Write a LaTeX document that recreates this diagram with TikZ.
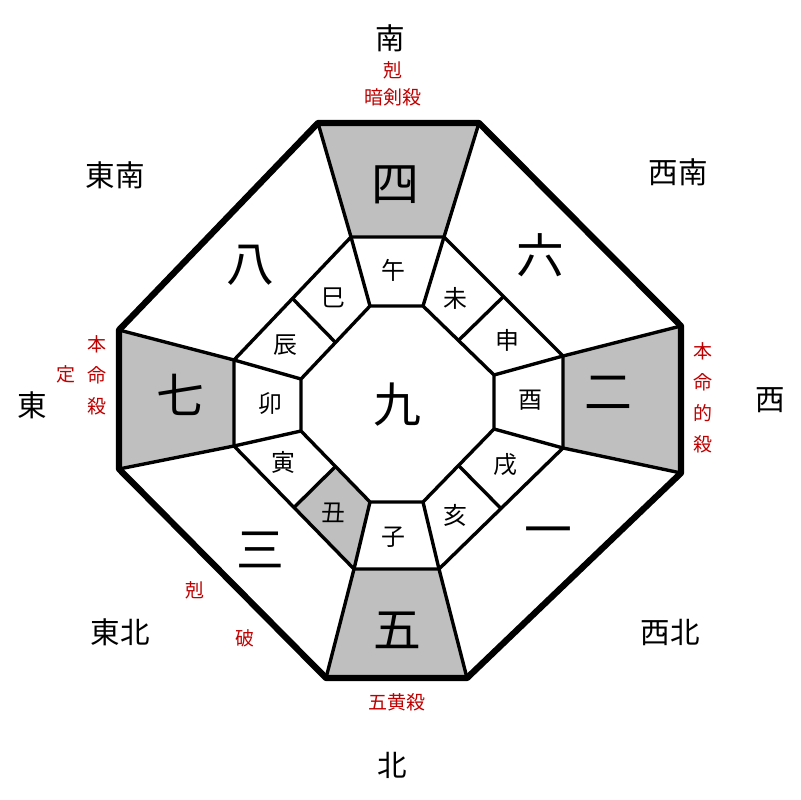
\documentclass[tikz,border=0pt]{standalone}
\usepackage{fontspec}
\usetikzlibrary{calc}
\newfontfamily\cjk{Noto Sans CJK JP}
\begin{document}
\begin{tikzpicture}[x={(0.025cm,0)}, y={(0,-0.025cm)},
    bigline/.style={line width=4.5pt, line join=round},
    thinline/.style={line width=2.4pt},
    shade/.style={fill=gray!50},
    star/.style={font=\cjk\fontsize{34}{34}\selectfont},
    branch/.style={font=\cjk\fontsize{17}{17}\selectfont},
    dir/.style={font=\cjk\fontsize{21}{21}\selectfont},
    note/.style={font=\cjk\fontsize{13.5}{22}\selectfont, text=red!75!black, align=center}]
    \useasboundingbox (0,0) rectangle (800,800);

    % Ecken der drei Achtecke
    \coordinate (o1) at (318,123); \coordinate (o2) at (479,123);
    \coordinate (o3) at (681,326); \coordinate (o4) at (681,473);
    \coordinate (o5) at (467,678); \coordinate (o6) at (326,678);
    \coordinate (o7) at (119,469); \coordinate (o8) at (119,330);
    \coordinate (m1) at (351,237); \coordinate (m2) at (444,237);
    \coordinate (m3) at (563,356); \coordinate (m4) at (563,448);
    \coordinate (m5) at (439,569); \coordinate (m6) at (354,569);
    \coordinate (m7) at (234,446); \coordinate (m8) at (234,360);
    \coordinate (i1) at (370,306); \coordinate (i2) at (423,306);
    \coordinate (i3) at (494,375); \coordinate (i4) at (494,429);
    \coordinate (i5) at (423,502); \coordinate (i6) at (370,502);
    \coordinate (i7) at (301,431); \coordinate (i8) at (301,379);

    % graue Felder
    \fill[shade] (o1) -- (o2) -- (m2) -- (m1) -- cycle;
    \fill[shade] (o3) -- (o4) -- (m4) -- (m3) -- cycle;
    \fill[shade] (o5) -- (o6) -- (m6) -- (m5) -- cycle;
    \fill[shade] (o7) -- (o8) -- (m8) -- (m7) -- cycle;
    \fill[shade] ($(m6)!0.5!(m7)$) -- (m6) -- (i6) -- ($(i6)!0.5!(i7)$) -- cycle;

    % Linien
    \draw[thinline] (m1) -- (m2) -- (m3) -- (m4) -- (m5) -- (m6) -- (m7) -- (m8) -- cycle;
    \draw[thinline] (i1) -- (i2) -- (i3) -- (i4) -- (i5) -- (i6) -- (i7) -- (i8) -- cycle;
    \foreach \k in {1,...,8} {
      \draw[thinline] (o\k) -- (m\k);
      \draw[thinline] (m\k) -- (i\k);
    }
    \foreach \a/\b in {1/8,2/3,4/5,6/7}
      \draw[thinline] ($(m\a)!0.5!(m\b)$) -- ($(i\a)!0.5!(i\b)$);
    \draw[bigline] (o1) -- (o2) -- (o3) -- (o4) -- (o5) -- (o6) -- (o7) -- (o8) -- cycle;

    % Sterne
    \node[star] (s4) at (395,185) {四};
    \node[star] (s6) at (540,255) {六};
    \node[star] (s8) at (250,265) {八};
    \node[star] (s7) at (180,395) {七};
    \node[star] (s9) at (397,405) {九};
    \node[star] (s2) at (608,393) {二};
    \node[star] (s3) at (260,550) {三};
    \node[star] (s1) at (548,537) {一};
    \node[star] (s5) at (397,630) {五};

    % Tierkreiszeichen
    \node[branch] (uma) at (393,270) {午};
    \node[branch] (hitsuji) at (455,298) {未};
    \node[branch] (saru) at (507,340) {申};
    \node[branch] (tori) at (530,400) {酉};
    \node[branch] (inu) at (505,465) {戌};
    \node[branch] (i) at (455,515) {亥};
    \node[branch] (ne) at (393,537) {子};
    \node[branch] (ushi) at (333,513) {丑};
    \node[branch] (tora) at (283,462) {寅};
    \node[branch] (u) at (270,404) {卯};
    \node[branch] (tatsu) at (285,345) {辰};
    \node[branch] (mi) at (333,298) {巳};

    % Richtungen
    \node[dir] (south) at (390,38) {南};
    \node[dir] (southeast) at (115,175) {東南};
    \node[dir] (southwest) at (678,172) {西南};
    \node[dir] (east) at (32,405) {東};
    \node[dir] (west) at (770,400) {西};
    \node[dir] (northeast) at (120,632) {東北};
    \node[dir] (northwest) at (670,632) {西北};
    \node[dir] (north) at (392,765) {北};

    % Hinweise
    \node[note, font=\cjk\fontsize{13.5}{19}\selectfont] (ankensatsu) at (393,84) {剋\\暗剣殺};
    \node[note] (honmeisatsu) at (97,375) {本\\命\\殺};
    \node[note] (tei) at (66,374) {定};
    \node[note] (honmeiteki) at (703,398) {本\\命\\的\\殺};
    \node[note] (koku) at (195,590) {剋};
    \node[note] (ha) at (245,638) {破};
    \node[note] (gooh) at (397,702) {五黄殺};
\end{tikzpicture}
\end{document}
